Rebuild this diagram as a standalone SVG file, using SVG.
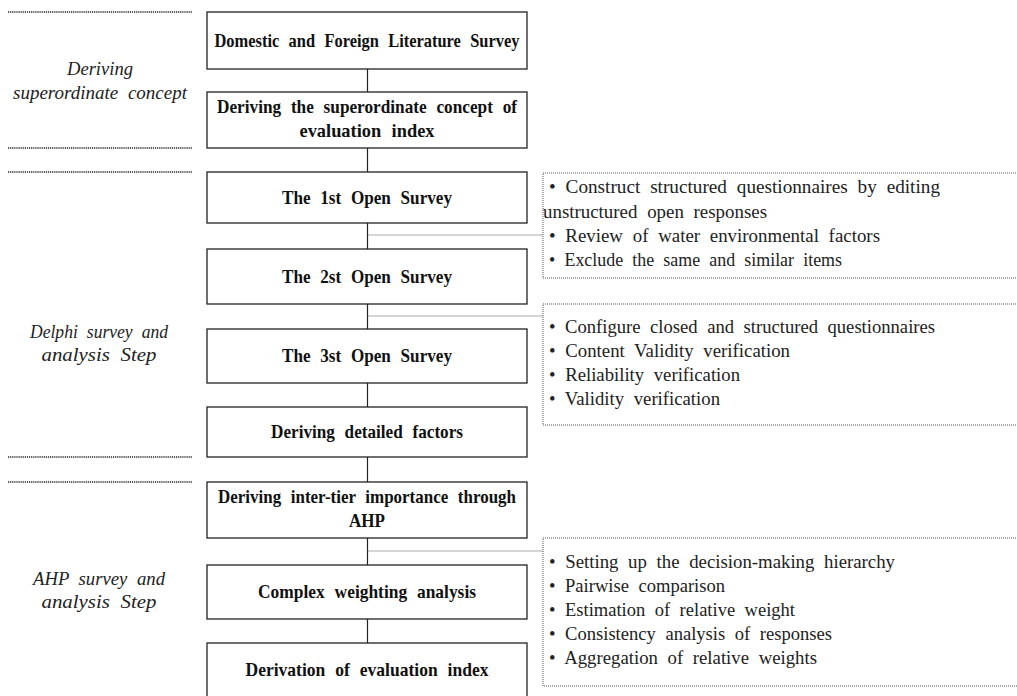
<svg xmlns="http://www.w3.org/2000/svg" width="1017" height="696" viewBox="0 0 1017 696">
<style>
.box{fill:#fff;stroke:#222;stroke-width:1.3}
text{font-family:'Liberation Serif','Times New Roman',Times,serif}
.nt{font-weight:bold;font-size:19px;fill:#111;text-anchor:middle;word-spacing:6px}
.lt{font-style:italic;font-size:19px;fill:#222;text-anchor:middle;word-spacing:5px}
.rt{font-size:19px;fill:#222;word-spacing:5px}
.div{stroke:#222;stroke-width:1.6;stroke-dasharray:1.2,0.9;fill:none}
.note{fill:none;stroke:#555;stroke-width:1;stroke-dasharray:1,1}
.con{stroke:#222;stroke-width:1.2;fill:none}
.dcon{stroke:#555;stroke-width:1;stroke-dasharray:1,1;fill:none}
</style>
<rect width="1017" height="696" fill="#fff"/>
<g id="dividers">
<line class="div" x1="8" y1="12" x2="192" y2="12"/>
<line class="div" x1="8" y1="148" x2="192" y2="148"/>
<line class="div" x1="8" y1="172" x2="192" y2="172"/>
<line class="div" x1="8" y1="457" x2="192" y2="457"/>
<line class="div" x1="8" y1="482" x2="192" y2="482"/>
</g>
<g id="stage-labels">
<text class="lt" x="100" y="75" textLength="66" lengthAdjust="spacingAndGlyphs">Deriving</text>
<text class="lt" x="100" y="99" textLength="174" lengthAdjust="spacingAndGlyphs">superordinate concept</text>
<text class="lt" x="99" y="338" textLength="138" lengthAdjust="spacingAndGlyphs">Delphi survey and</text>
<text class="lt" x="99" y="361" textLength="115" lengthAdjust="spacingAndGlyphs">analysis Step</text>
<text class="lt" x="99" y="585" textLength="132" lengthAdjust="spacingAndGlyphs">AHP survey and</text>
<text class="lt" x="99" y="608" textLength="115" lengthAdjust="spacingAndGlyphs">analysis Step</text>
</g>
<g id="connectors">
<line class="con" x1="367.5" y1="69" x2="367.5" y2="643"/>
<polyline class="dcon" points="367.5,235 543,235"/>
<polyline class="dcon" points="367.5,316 543,316"/>
<polyline class="dcon" points="367.5,551 543,551"/>
</g>
<g id="n1"><rect class="box" x="207" y="12" width="320" height="57"/>
<text class="nt" x="367" y="47" textLength="305" lengthAdjust="spacingAndGlyphs">Domestic and Foreign Literature Survey</text></g>
<g id="n2"><rect class="box" x="207" y="92" width="320" height="56"/>
<text class="nt" x="367" y="113" textLength="300" lengthAdjust="spacingAndGlyphs">Deriving the superordinate concept of</text>
<text class="nt" x="367" y="137" textLength="135" lengthAdjust="spacingAndGlyphs">evaluation index</text></g>
<g id="n3"><rect class="box" x="207" y="172" width="320" height="51"/>
<text class="nt" x="367" y="204" textLength="170" lengthAdjust="spacingAndGlyphs">The 1st Open Survey</text></g>
<g id="n4"><rect class="box" x="207" y="249" width="320" height="55"/>
<text class="nt" x="367" y="283" textLength="170" lengthAdjust="spacingAndGlyphs">The 2st Open Survey</text></g>
<g id="n5"><rect class="box" x="207" y="329" width="320" height="54"/>
<text class="nt" x="367" y="362" textLength="170" lengthAdjust="spacingAndGlyphs">The 3st Open Survey</text></g>
<g id="n6"><rect class="box" x="207" y="407" width="320" height="50"/>
<text class="nt" x="367" y="438" textLength="192" lengthAdjust="spacingAndGlyphs">Deriving detailed factors</text></g>
<g id="n7"><rect class="box" x="207" y="482" width="320" height="56"/>
<text class="nt" x="367" y="503" textLength="298" lengthAdjust="spacingAndGlyphs">Deriving inter-tier importance through</text>
<text class="nt" x="367" y="527" textLength="36" lengthAdjust="spacingAndGlyphs">AHP</text></g>
<g id="n8"><rect class="box" x="207" y="565" width="320" height="54"/>
<text class="nt" x="367" y="598" textLength="218" lengthAdjust="spacingAndGlyphs">Complex weighting analysis</text></g>
<g id="n9"><rect class="box" x="207" y="643" width="320" height="56"/>
<text class="nt" x="367" y="676" textLength="243" lengthAdjust="spacingAndGlyphs">Derivation of evaluation index</text></g>
<g id="noteA"><rect class="note" x="543" y="173" width="480" height="105"/>
<text class="rt" x="549" y="193" textLength="391" lengthAdjust="spacingAndGlyphs">• Construct structured questionnaires by editing</text>
<text class="rt" x="543" y="218" textLength="224" lengthAdjust="spacingAndGlyphs">unstructured open responses</text>
<text class="rt" x="549" y="242" textLength="331" lengthAdjust="spacingAndGlyphs">• Review of water environmental factors</text>
<text class="rt" x="549" y="266" textLength="293" lengthAdjust="spacingAndGlyphs">• Exclude the same and similar items</text></g>
<g id="noteB"><rect class="note" x="543" y="304" width="480" height="121"/>
<text class="rt" x="549" y="333" textLength="386" lengthAdjust="spacingAndGlyphs">• Configure closed and structured questionnaires</text>
<text class="rt" x="549" y="357" textLength="241" lengthAdjust="spacingAndGlyphs">• Content Validity verification</text>
<text class="rt" x="549" y="381" textLength="191" lengthAdjust="spacingAndGlyphs">• Reliability verification</text>
<text class="rt" x="549" y="405" textLength="171" lengthAdjust="spacingAndGlyphs">• Validity verification</text></g>
<g id="noteC"><rect class="note" x="543" y="538" width="480" height="148"/>
<text class="rt" x="549" y="568" textLength="346" lengthAdjust="spacingAndGlyphs">• Setting up the decision-making hierarchy</text>
<text class="rt" x="549" y="592" textLength="176" lengthAdjust="spacingAndGlyphs">• Pairwise comparison</text>
<text class="rt" x="549" y="616" textLength="246" lengthAdjust="spacingAndGlyphs">• Estimation of relative weight</text>
<text class="rt" x="549" y="640" textLength="283" lengthAdjust="spacingAndGlyphs">• Consistency analysis of responses</text>
<text class="rt" x="549" y="664" textLength="268" lengthAdjust="spacingAndGlyphs">• Aggregation of relative weights</text></g>
</svg>
